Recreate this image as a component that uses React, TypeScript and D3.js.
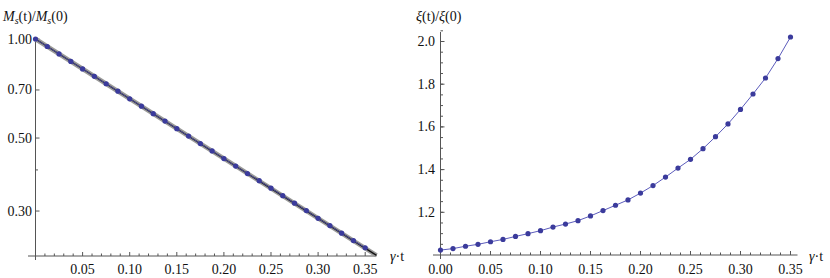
import React from 'react';
import * as d3 from 'd3';

// sample times (gamma * t)
const tValues = [
  0, 0.0125, 0.025, 0.0375, 0.05, 0.0625, 0.075, 0.0875, 0.1, 0.1125,
  0.125, 0.1375, 0.15, 0.1625, 0.175, 0.1875, 0.2, 0.2125, 0.225, 0.2375,
  0.25, 0.2625, 0.275, 0.2875, 0.3, 0.3125, 0.325, 0.3375, 0.35,
];

// Ms(t)/Ms(0), log axis
const msRatio = [
  1.0, 0.949, 0.901, 0.855, 0.811, 0.77, 0.731, 0.694, 0.658, 0.625,
  0.593, 0.563, 0.534, 0.507, 0.481, 0.457, 0.433, 0.411, 0.39, 0.371,
  0.352, 0.334, 0.317, 0.301, 0.285, 0.271, 0.257, 0.244, 0.232,
];

// fitted straight line (log scale)
const fitT = [0, 0.362];
const fitMs = [1.0, 0.22];

// xi(t)/xi(0)
const xiRatio = [
  1.023, 1.03, 1.041, 1.05, 1.062, 1.073, 1.087, 1.1, 1.114, 1.131,
  1.145, 1.161, 1.183, 1.208, 1.233, 1.258, 1.29, 1.325, 1.365, 1.407,
  1.448, 1.498, 1.554, 1.614, 1.682, 1.754, 1.829, 1.92, 2.021,
];

const leftXTicks = [0.05, 0.1, 0.15, 0.2, 0.25, 0.3, 0.35];
const leftYTicks = [1.0, 0.7, 0.5, 0.3];
const leftYMinor = [0.4];
const rightXTicks = [0, 0.05, 0.1, 0.15, 0.2, 0.25, 0.3, 0.35];
const rightYTicks = [1.2, 1.4, 1.6, 1.8, 2.0];

const FONT = "'Liberation Serif', 'Times New Roman', serif";
const AXIS = '#555';
const DOT = '#3b3b9c';
const LINE = '#5c5cbc';

const txt: React.CSSProperties = { fontFamily: FONT, fontSize: 14, fill: '#111' };

export default function App() {
  // left panel
  const xL = d3.scaleLinear().domain([0, 0.362]).range([35.5, 376.5]);
  const yL = d3.scaleLog().domain([0.219, 1]).range([256, 39]);
  // right panel
  const xR = d3.scaleLinear().domain([0, 0.357]).range([440.5, 797.5]);
  const yR = d3.scaleLinear().domain([1, 2]).range([255, 41.5]);

  const leftMinorX = d3.range(0.01, 0.361, 0.01);
  const rightMinorX = d3.range(0.01, 0.356, 0.01);
  const rightMinorY = d3.range(1.05, 2.06, 0.05);

  const fitLine = d3.line<number>().x((d, i) => xL(fitT[i])).y(d => yL(d));
  const msLine = d3.line<number>().x((d, i) => xL(tValues[i])).y(d => yL(d));
  const xiLine = d3.line<number>().x((d, i) => xR(tValues[i])).y(d => yR(d));

  const y0L = yL(0.219);
  const y0R = yR(1);

  return (
    <svg width={830} height={278} style={{ position: 'absolute', left: 0, top: 0, background: '#fff' }}>
      {/* ---------- left panel ---------- */}
      <g>
        <line x1={28} x2={xL(0.362)} y1={y0L} y2={y0L} stroke={AXIS} strokeWidth={1} />
        <line x1={xL(0)} x2={xL(0)} y1={37} y2={y0L + 4} stroke={AXIS} strokeWidth={1} />
        {leftMinorX.map(t => {
          const major = leftXTicks.some(v => Math.abs(v - t) < 1e-6);
          return <line key={t} x1={xL(t)} x2={xL(t)} y1={y0L} y2={y0L - (major ? 4 : 2.5)} stroke={AXIS} />;
        })}
        {leftXTicks.map(t => (
          <text key={t} x={xL(t)} y={274} style={txt} textAnchor="middle">{t.toFixed(2)}</text>
        ))}
        {leftYTicks.map(v => (
          <g key={v}>
            <line x1={xL(0)} x2={xL(0) + 4} y1={yL(v)} y2={yL(v)} stroke={AXIS} />
            <text x={32} y={yL(v) + 4.5} style={txt} textAnchor="end">{v.toFixed(2)}</text>
          </g>
        ))}
        {leftYMinor.map(v => (
          <line key={v} x1={xL(0)} x2={xL(0) + 2.5} y1={yL(v)} y2={yL(v)} stroke={AXIS} />
        ))}
        <text x={3} y={21} style={txt}>
          <tspan fontStyle="italic">M</tspan>
          <tspan fontStyle="italic" fontSize={10} dy={3}>s</tspan>
          <tspan dy={-3}>(t)/</tspan>
          <tspan fontStyle="italic">M</tspan>
          <tspan fontStyle="italic" fontSize={10} dy={3}>s</tspan>
          <tspan dy={-3}>(0)</tspan>
        </text>
        <text x={390} y={261} style={txt}>
          <tspan fontStyle="italic">γ</tspan>·t
        </text>

        {/* fit band and line */}
        <path d={fitLine(fitMs) || ''} fill="none" stroke="#9a9a9a" strokeWidth={4.5} />
        <path d={fitLine(fitMs) || ''} fill="none" stroke="#111" strokeWidth={1.3} />
        <path d={msLine(msRatio) || ''} fill="none" stroke={LINE} strokeWidth={0.8} />
        {msRatio.map((v, i) => (
          <circle key={i} cx={xL(tValues[i])} cy={yL(v)} r={2.6} fill={DOT} />
        ))}
      </g>

      {/* ---------- right panel ---------- */}
      <g>
        <line x1={433} x2={xR(0.357)} y1={y0R} y2={y0R} stroke={AXIS} strokeWidth={1} />
        <line x1={xR(0)} x2={xR(0)} y1={32} y2={y0R + 4} stroke={AXIS} strokeWidth={1} />
        {rightMinorX.map(t => (
          <line key={t} x1={xR(t)} x2={xR(t)} y1={y0R} y2={y0R - 2.5} stroke={AXIS} />
        ))}
        {rightXTicks.map(t => (
          <g key={t}>
            <line x1={xR(t)} x2={xR(t)} y1={y0R} y2={y0R - 4} stroke={AXIS} />
            <text x={xR(t)} y={274} style={txt} textAnchor="middle">{t.toFixed(2)}</text>
          </g>
        ))}
        {rightMinorY.map(v => (
          <line key={v} x1={xR(0)} x2={xR(0) + 2.5} y1={yR(v)} y2={yR(v)} stroke={AXIS} />
        ))}
        {rightYTicks.map(v => (
          <g key={v}>
            <line x1={xR(0)} x2={xR(0) + 4} y1={yR(v)} y2={yR(v)} stroke={AXIS} />
            <text x={435} y={yR(v) + 4.5} style={txt} textAnchor="end">{v.toFixed(1)}</text>
          </g>
        ))}
        <text x={416} y={21} style={txt}>
          <tspan fontStyle="italic">ξ</tspan>(t)/<tspan fontStyle="italic">ξ</tspan>(0)
        </text>
        <text x={809} y={261} style={txt}>
          <tspan fontStyle="italic">γ</tspan>·t
        </text>

        <path d={xiLine(xiRatio) || ''} fill="none" stroke={LINE} strokeWidth={1} />
        {xiRatio.map((v, i) => (
          <circle key={i} cx={xR(tValues[i])} cy={yR(v)} r={2.6} fill={DOT} />
        ))}
      </g>
    </svg>
  );
}
